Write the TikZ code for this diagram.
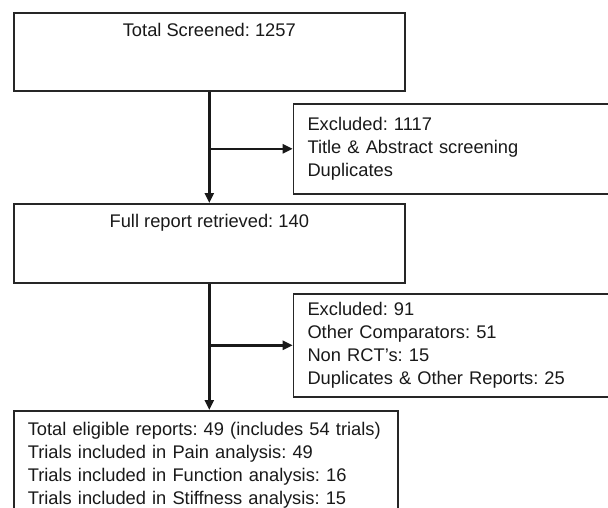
\documentclass[tikz,border=0pt]{standalone}
\usepackage{fontspec}
\setmainfont{Liberation Sans}
\frenchspacing
\usetikzlibrary{arrows.meta}
\begin{document}
\begin{tikzpicture}[x=1pt,y=-1pt,
		font=\fontsize{18.3}{23.3}\selectfont, text=black!90,
		box/.style={draw=black!85, line width=1.6pt, inner sep=0pt, anchor=north west},
		listbox/.style={box, align=left, inner xsep=14pt, text width=300pt},
		flow/.style={draw=black!90, line width=2.4pt, -{Triangle[length=10pt,width=9pt]}}]
		
		\useasboundingbox (0,0) rectangle (608,508);
		
		% screening
		\node[box, minimum width=391pt, minimum height=78pt,
			label={[anchor=north, inner sep=0pt, yshift=-11pt]north:Total Screened: 1257}] (screened) at (13,12) {};
		\node[listbox, minimum height=90pt] (excl1) at (292.7,103) {Excluded: 1117\\Title \& Abstract screening\\Duplicates};
		
		% full reports
		\node[box, minimum width=391pt, minimum height=79pt,
			label={[anchor=north, inner sep=0pt, yshift=-11pt]north:Full report retrieved: 140}] (report) at (13,203) {};
		\node[listbox, minimum height=103pt] (excl2) at (292.7,293) {Excluded: 91\\Other Comparators: 51\\Non RCT's: 15\\Duplicates \& Other Reports: 25};
		
		% eligible
		\node[box, align=left, inner xsep=14pt, inner ysep=11pt, text width=356pt] (eligible) at (13,410) {Total eligible reports: 49 (includes 54 trials)\\Trials included in Pain analysis: 49\\Trials included in Function analysis: 16\\Trials included in Stiffness analysis: 15};
		
		% arrows
		\draw[flow] (screened.south) -- (report.north);
		\draw[flow] (screened.south |- excl1.west) -- (excl1.west);
		\draw[flow] (report.south) -- (report.south |- eligible.north);
		\draw[flow] (report.south |- excl2.west) -- (excl2.west);
	\end{tikzpicture}
\end{document}
